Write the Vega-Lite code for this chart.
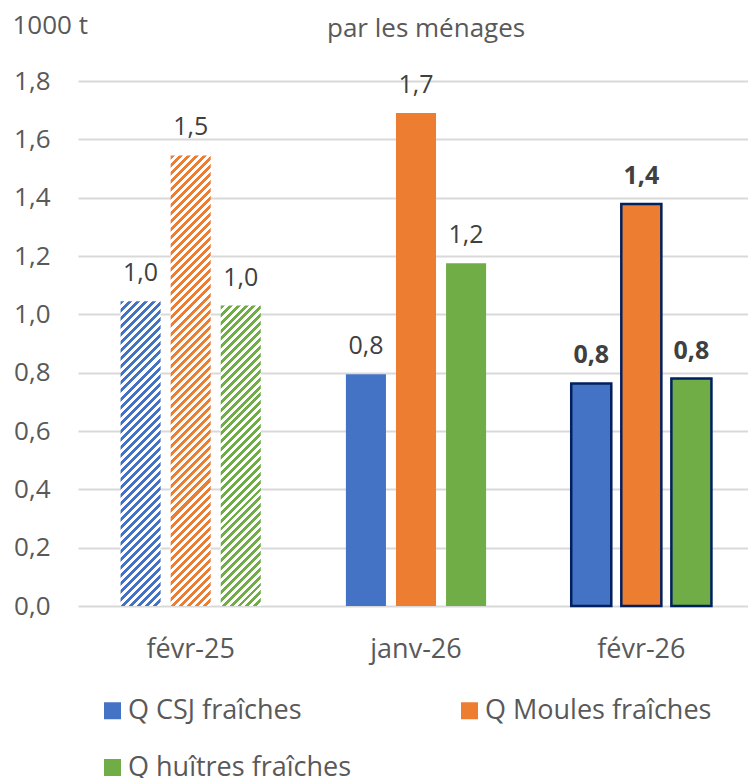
{
"$schema": "https://vega.github.io/schema/vega-lite/v6.json",
"width": 670, "height": 525,
"autosize": {"type": "none"},
"padding": {"left": 78, "top": 81, "right": 0, "bottom": 172},
"background": "white",
"config": {"view": {"stroke": null}, "locale": {"number": {"decimal": ",", "thousands": " ", "grouping": [3], "currency": ["", " €"]}}},
"title": {"text": "par les ménages", "anchor": "start", "frame": "group", "dx": 249, "offset": -51, "baseline": "alphabetic", "fontSize": 26, "fontWeight": "normal", "color": "#595959", "font": "Open Sans"},
"data": {"values": [
{"period": "févr-25", "series": "Q CSJ fraîches", "value": 1.045},
{"period": "févr-25", "series": "Q Moules fraîches", "value": 1.545},
{"period": "févr-25", "series": "Q huîtres fraîches", "value": 1.03},
{"period": "janv-26", "series": "Q CSJ fraîches", "value": 0.795},
{"period": "janv-26", "series": "Q Moules fraîches", "value": 1.69},
{"period": "janv-26", "series": "Q huîtres fraîches", "value": 1.175},
{"period": "févr-26", "series": "Q CSJ fraîches", "value": 0.763},
{"period": "févr-26", "series": "Q Moules fraîches", "value": 1.378},
{"period": "févr-26", "series": "Q huîtres fraîches", "value": 0.78}
]},
"encoding": {
"x": {"field": "period", "type": "nominal", "sort": ["févr-25", "janv-26", "févr-26"], "scale": {"range": [0, 676], "paddingInner": 0, "paddingOuter": 0}, "axis": {"title": null, "labelAngle": 0, "labelFontSize": 27, "labelColor": "#595959", "labelFont": "Open Sans", "labelPadding": 30, "ticks": false, "domain": false, "grid": false}},
"xOffset": {"field": "series", "type": "nominal", "scale": {"domain": ["Q CSJ fraîches", "Q Moules fraîches", "Q huîtres fraîches"], "paddingInner": 0.2, "paddingOuter": 0.85}},
"y": {"field": "value", "type": "quantitative", "scale": {"domain": [0, 1.8], "nice": false}, "axis": {"title": "1000 t", "titleAngle": 0, "titleX": -66, "titleY": -48, "titleAlign": "left", "titleBaseline": "alphabetic", "titleFontSize": 26, "titleFontWeight": "normal", "titleColor": "#595959", "titleFont": "Open Sans", "values": [0, 0.2, 0.4, 0.6, 0.8, 1, 1.2, 1.4, 1.6, 1.8], "format": ".1f", "labelFontSize": 26, "labelColor": "#595959", "labelFont": "Open Sans", "labelPadding": 28, "ticks": false, "domain": false, "gridColor": "#d9d9d9", "gridWidth": 2}}
},
"layer": [
{"transform": [{"filter": "datum.period === 'janv-26'"}], "mark": {"type": "bar"}, "encoding": {"color": {"field": "series", "type": "nominal", "scale": {"domain": ["Q CSJ fraîches", "Q Moules fraîches", "Q huîtres fraîches"], "range": ["#4472c4", "#ed7d31", "#70ad47"]}, "legend": {"title": null, "orient": "none", "legendX": 21, "legendY": 616, "direction": "horizontal", "columns": 2, "columnPadding": 104, "rowPadding": 29, "symbolType": "square", "symbolSize": 289, "symbolStrokeWidth": 0, "labelFontSize": 27, "labelColor": "#595959", "labelFont": "Open Sans", "labelOffset": 2, "labelLimit": 400, "padding": 0}}}},
{"transform": [{"filter": "datum.period === 'févr-26'"}], "mark": {"type": "bar", "stroke": "#002060", "strokeWidth": 2.5}, "encoding": {"color": {"field": "series", "type": "nominal", "scale": {"domain": ["Q CSJ fraîches", "Q Moules fraîches", "Q huîtres fraîches"], "range": ["#4472c4", "#ed7d31", "#70ad47"]}}}},
{"transform": [{"filter": "datum.period === 'févr-25' && datum.series === 'Q CSJ fraîches'"}], "mark": {"type": "bar", "fill": {"gradient": "linear", "x1": 0, "y1": 0, "x2": 0.14618, "y2": 1.11222, "stops": [
{"offset":0,"color":"#4472c4"},{"offset":0.0116,"color":"#4472c4"},{"offset":0.0116,"color":"#fff"},{"offset":0.0233,"color":"#fff"},{"offset":0.0233,"color":"#4472c4"},{"offset":0.0349,"color":"#4472c4"},{"offset":0.0349,"color":"#fff"},{"offset":0.0465,"color":"#fff"},{"offset":0.0465,"color":"#4472c4"},{"offset":0.0581,"color":"#4472c4"},{"offset":0.0581,"color":"#fff"},{"offset":0.0698,"color":"#fff"},{"offset":0.0698,"color":"#4472c4"},{"offset":0.0814,"color":"#4472c4"},{"offset":0.0814,"color":"#fff"},{"offset":0.093,"color":"#fff"},{"offset":0.093,"color":"#4472c4"},{"offset":0.1047,"color":"#4472c4"},{"offset":0.1047,"color":"#fff"},{"offset":0.1163,"color":"#fff"},{"offset":0.1163,"color":"#4472c4"},{"offset":0.1279,"color":"#4472c4"},{"offset":0.1279,"color":"#fff"},{"offset":0.1395,"color":"#fff"},{"offset":0.1395,"color":"#4472c4"},{"offset":0.1512,"color":"#4472c4"},{"offset":0.1512,"color":"#fff"},{"offset":0.1628,"color":"#fff"},{"offset":0.1628,"color":"#4472c4"},{"offset":0.1744,"color":"#4472c4"},{"offset":0.1744,"color":"#fff"},{"offset":0.186,"color":"#fff"},{"offset":0.186,"color":"#4472c4"},{"offset":0.1977,"color":"#4472c4"},{"offset":0.1977,"color":"#fff"},{"offset":0.2093,"color":"#fff"},{"offset":0.2093,"color":"#4472c4"},{"offset":0.2209,"color":"#4472c4"},{"offset":0.2209,"color":"#fff"},{"offset":0.2326,"color":"#fff"},{"offset":0.2326,"color":"#4472c4"},{"offset":0.2442,"color":"#4472c4"},{"offset":0.2442,"color":"#fff"},{"offset":0.2558,"color":"#fff"},{"offset":0.2558,"color":"#4472c4"},{"offset":0.2674,"color":"#4472c4"},{"offset":0.2674,"color":"#fff"},{"offset":0.2791,"color":"#fff"},{"offset":0.2791,"color":"#4472c4"},{"offset":0.2907,"color":"#4472c4"},{"offset":0.2907,"color":"#fff"},{"offset":0.3023,"color":"#fff"},{"offset":0.3023,"color":"#4472c4"},{"offset":0.314,"color":"#4472c4"},{"offset":0.314,"color":"#fff"},{"offset":0.3256,"color":"#fff"},{"offset":0.3256,"color":"#4472c4"},{"offset":0.3372,"color":"#4472c4"},{"offset":0.3372,"color":"#fff"},{"offset":0.3488,"color":"#fff"},{"offset":0.3488,"color":"#4472c4"},{"offset":0.3605,"color":"#4472c4"},{"offset":0.3605,"color":"#fff"},{"offset":0.3721,"color":"#fff"},{"offset":0.3721,"color":"#4472c4"},{"offset":0.3837,"color":"#4472c4"},{"offset":0.3837,"color":"#fff"},{"offset":0.3953,"color":"#fff"},{"offset":0.3953,"color":"#4472c4"},{"offset":0.407,"color":"#4472c4"},{"offset":0.407,"color":"#fff"},{"offset":0.4186,"color":"#fff"},{"offset":0.4186,"color":"#4472c4"},{"offset":0.4302,"color":"#4472c4"},{"offset":0.4302,"color":"#fff"},{"offset":0.4419,"color":"#fff"},{"offset":0.4419,"color":"#4472c4"},{"offset":0.4535,"color":"#4472c4"},{"offset":0.4535,"color":"#fff"},{"offset":0.4651,"color":"#fff"},{"offset":0.4651,"color":"#4472c4"},{"offset":0.4767,"color":"#4472c4"},{"offset":0.4767,"color":"#fff"},{"offset":0.4884,"color":"#fff"},{"offset":0.4884,"color":"#4472c4"},{"offset":0.5,"color":"#4472c4"},{"offset":0.5,"color":"#fff"},{"offset":0.5116,"color":"#fff"},{"offset":0.5116,"color":"#4472c4"},{"offset":0.5233,"color":"#4472c4"},{"offset":0.5233,"color":"#fff"},{"offset":0.5349,"color":"#fff"},{"offset":0.5349,"color":"#4472c4"},{"offset":0.5465,"color":"#4472c4"},{"offset":0.5465,"color":"#fff"},{"offset":0.5581,"color":"#fff"},{"offset":0.5581,"color":"#4472c4"},{"offset":0.5698,"color":"#4472c4"},{"offset":0.5698,"color":"#fff"},{"offset":0.5814,"color":"#fff"},{"offset":0.5814,"color":"#4472c4"},{"offset":0.593,"color":"#4472c4"},{"offset":0.593,"color":"#fff"},{"offset":0.6047,"color":"#fff"},{"offset":0.6047,"color":"#4472c4"},{"offset":0.6163,"color":"#4472c4"},{"offset":0.6163,"color":"#fff"},{"offset":0.6279,"color":"#fff"},{"offset":0.6279,"color":"#4472c4"},{"offset":0.6395,"color":"#4472c4"},{"offset":0.6395,"color":"#fff"},{"offset":0.6512,"color":"#fff"},{"offset":0.6512,"color":"#4472c4"},{"offset":0.6628,"color":"#4472c4"},{"offset":0.6628,"color":"#fff"},{"offset":0.6744,"color":"#fff"},{"offset":0.6744,"color":"#4472c4"},{"offset":0.686,"color":"#4472c4"},{"offset":0.686,"color":"#fff"},{"offset":0.6977,"color":"#fff"},{"offset":0.6977,"color":"#4472c4"},{"offset":0.7093,"color":"#4472c4"},{"offset":0.7093,"color":"#fff"},{"offset":0.7209,"color":"#fff"},{"offset":0.7209,"color":"#4472c4"},{"offset":0.7326,"color":"#4472c4"},{"offset":0.7326,"color":"#fff"},{"offset":0.7442,"color":"#fff"},{"offset":0.7442,"color":"#4472c4"},{"offset":0.7558,"color":"#4472c4"},{"offset":0.7558,"color":"#fff"},{"offset":0.7674,"color":"#fff"},{"offset":0.7674,"color":"#4472c4"},{"offset":0.7791,"color":"#4472c4"},{"offset":0.7791,"color":"#fff"},{"offset":0.7907,"color":"#fff"},{"offset":0.7907,"color":"#4472c4"},{"offset":0.8023,"color":"#4472c4"},{"offset":0.8023,"color":"#fff"},{"offset":0.814,"color":"#fff"},{"offset":0.814,"color":"#4472c4"},{"offset":0.8256,"color":"#4472c4"},{"offset":0.8256,"color":"#fff"},{"offset":0.8372,"color":"#fff"},{"offset":0.8372,"color":"#4472c4"},{"offset":0.8488,"color":"#4472c4"},{"offset":0.8488,"color":"#fff"},{"offset":0.8605,"color":"#fff"},{"offset":0.8605,"color":"#4472c4"},{"offset":0.8721,"color":"#4472c4"},{"offset":0.8721,"color":"#fff"},{"offset":0.8837,"color":"#fff"},{"offset":0.8837,"color":"#4472c4"},{"offset":0.8953,"color":"#4472c4"},{"offset":0.8953,"color":"#fff"},{"offset":0.907,"color":"#fff"},{"offset":0.907,"color":"#4472c4"},{"offset":0.9186,"color":"#4472c4"},{"offset":0.9186,"color":"#fff"},{"offset":0.9302,"color":"#fff"},{"offset":0.9302,"color":"#4472c4"},{"offset":0.9419,"color":"#4472c4"},{"offset":0.9419,"color":"#fff"},{"offset":0.9535,"color":"#fff"},{"offset":0.9535,"color":"#4472c4"},{"offset":0.9651,"color":"#4472c4"},{"offset":0.9651,"color":"#fff"},{"offset":0.9767,"color":"#fff"},{"offset":0.9767,"color":"#4472c4"},{"offset":0.9884,"color":"#4472c4"},{"offset":0.9884,"color":"#fff"},{"offset":1,"color":"#fff"}
]}}},
{"transform": [{"filter": "datum.period === 'févr-25' && datum.series === 'Q huîtres fraîches'"}], "mark": {"type": "bar", "fill": {"gradient": "linear", "x1": 0, "y1": 0, "x2": 0.148485, "y2": 1.11355, "stops": [
{"offset":0,"color":"#70ad47"},{"offset":0.0116,"color":"#70ad47"},{"offset":0.0116,"color":"#fff"},{"offset":0.0233,"color":"#fff"},{"offset":0.0233,"color":"#70ad47"},{"offset":0.0349,"color":"#70ad47"},{"offset":0.0349,"color":"#fff"},{"offset":0.0465,"color":"#fff"},{"offset":0.0465,"color":"#70ad47"},{"offset":0.0581,"color":"#70ad47"},{"offset":0.0581,"color":"#fff"},{"offset":0.0698,"color":"#fff"},{"offset":0.0698,"color":"#70ad47"},{"offset":0.0814,"color":"#70ad47"},{"offset":0.0814,"color":"#fff"},{"offset":0.093,"color":"#fff"},{"offset":0.093,"color":"#70ad47"},{"offset":0.1047,"color":"#70ad47"},{"offset":0.1047,"color":"#fff"},{"offset":0.1163,"color":"#fff"},{"offset":0.1163,"color":"#70ad47"},{"offset":0.1279,"color":"#70ad47"},{"offset":0.1279,"color":"#fff"},{"offset":0.1395,"color":"#fff"},{"offset":0.1395,"color":"#70ad47"},{"offset":0.1512,"color":"#70ad47"},{"offset":0.1512,"color":"#fff"},{"offset":0.1628,"color":"#fff"},{"offset":0.1628,"color":"#70ad47"},{"offset":0.1744,"color":"#70ad47"},{"offset":0.1744,"color":"#fff"},{"offset":0.186,"color":"#fff"},{"offset":0.186,"color":"#70ad47"},{"offset":0.1977,"color":"#70ad47"},{"offset":0.1977,"color":"#fff"},{"offset":0.2093,"color":"#fff"},{"offset":0.2093,"color":"#70ad47"},{"offset":0.2209,"color":"#70ad47"},{"offset":0.2209,"color":"#fff"},{"offset":0.2326,"color":"#fff"},{"offset":0.2326,"color":"#70ad47"},{"offset":0.2442,"color":"#70ad47"},{"offset":0.2442,"color":"#fff"},{"offset":0.2558,"color":"#fff"},{"offset":0.2558,"color":"#70ad47"},{"offset":0.2674,"color":"#70ad47"},{"offset":0.2674,"color":"#fff"},{"offset":0.2791,"color":"#fff"},{"offset":0.2791,"color":"#70ad47"},{"offset":0.2907,"color":"#70ad47"},{"offset":0.2907,"color":"#fff"},{"offset":0.3023,"color":"#fff"},{"offset":0.3023,"color":"#70ad47"},{"offset":0.314,"color":"#70ad47"},{"offset":0.314,"color":"#fff"},{"offset":0.3256,"color":"#fff"},{"offset":0.3256,"color":"#70ad47"},{"offset":0.3372,"color":"#70ad47"},{"offset":0.3372,"color":"#fff"},{"offset":0.3488,"color":"#fff"},{"offset":0.3488,"color":"#70ad47"},{"offset":0.3605,"color":"#70ad47"},{"offset":0.3605,"color":"#fff"},{"offset":0.3721,"color":"#fff"},{"offset":0.3721,"color":"#70ad47"},{"offset":0.3837,"color":"#70ad47"},{"offset":0.3837,"color":"#fff"},{"offset":0.3953,"color":"#fff"},{"offset":0.3953,"color":"#70ad47"},{"offset":0.407,"color":"#70ad47"},{"offset":0.407,"color":"#fff"},{"offset":0.4186,"color":"#fff"},{"offset":0.4186,"color":"#70ad47"},{"offset":0.4302,"color":"#70ad47"},{"offset":0.4302,"color":"#fff"},{"offset":0.4419,"color":"#fff"},{"offset":0.4419,"color":"#70ad47"},{"offset":0.4535,"color":"#70ad47"},{"offset":0.4535,"color":"#fff"},{"offset":0.4651,"color":"#fff"},{"offset":0.4651,"color":"#70ad47"},{"offset":0.4767,"color":"#70ad47"},{"offset":0.4767,"color":"#fff"},{"offset":0.4884,"color":"#fff"},{"offset":0.4884,"color":"#70ad47"},{"offset":0.5,"color":"#70ad47"},{"offset":0.5,"color":"#fff"},{"offset":0.5116,"color":"#fff"},{"offset":0.5116,"color":"#70ad47"},{"offset":0.5233,"color":"#70ad47"},{"offset":0.5233,"color":"#fff"},{"offset":0.5349,"color":"#fff"},{"offset":0.5349,"color":"#70ad47"},{"offset":0.5465,"color":"#70ad47"},{"offset":0.5465,"color":"#fff"},{"offset":0.5581,"color":"#fff"},{"offset":0.5581,"color":"#70ad47"},{"offset":0.5698,"color":"#70ad47"},{"offset":0.5698,"color":"#fff"},{"offset":0.5814,"color":"#fff"},{"offset":0.5814,"color":"#70ad47"},{"offset":0.593,"color":"#70ad47"},{"offset":0.593,"color":"#fff"},{"offset":0.6047,"color":"#fff"},{"offset":0.6047,"color":"#70ad47"},{"offset":0.6163,"color":"#70ad47"},{"offset":0.6163,"color":"#fff"},{"offset":0.6279,"color":"#fff"},{"offset":0.6279,"color":"#70ad47"},{"offset":0.6395,"color":"#70ad47"},{"offset":0.6395,"color":"#fff"},{"offset":0.6512,"color":"#fff"},{"offset":0.6512,"color":"#70ad47"},{"offset":0.6628,"color":"#70ad47"},{"offset":0.6628,"color":"#fff"},{"offset":0.6744,"color":"#fff"},{"offset":0.6744,"color":"#70ad47"},{"offset":0.686,"color":"#70ad47"},{"offset":0.686,"color":"#fff"},{"offset":0.6977,"color":"#fff"},{"offset":0.6977,"color":"#70ad47"},{"offset":0.7093,"color":"#70ad47"},{"offset":0.7093,"color":"#fff"},{"offset":0.7209,"color":"#fff"},{"offset":0.7209,"color":"#70ad47"},{"offset":0.7326,"color":"#70ad47"},{"offset":0.7326,"color":"#fff"},{"offset":0.7442,"color":"#fff"},{"offset":0.7442,"color":"#70ad47"},{"offset":0.7558,"color":"#70ad47"},{"offset":0.7558,"color":"#fff"},{"offset":0.7674,"color":"#fff"},{"offset":0.7674,"color":"#70ad47"},{"offset":0.7791,"color":"#70ad47"},{"offset":0.7791,"color":"#fff"},{"offset":0.7907,"color":"#fff"},{"offset":0.7907,"color":"#70ad47"},{"offset":0.8023,"color":"#70ad47"},{"offset":0.8023,"color":"#fff"},{"offset":0.814,"color":"#fff"},{"offset":0.814,"color":"#70ad47"},{"offset":0.8256,"color":"#70ad47"},{"offset":0.8256,"color":"#fff"},{"offset":0.8372,"color":"#fff"},{"offset":0.8372,"color":"#70ad47"},{"offset":0.8488,"color":"#70ad47"},{"offset":0.8488,"color":"#fff"},{"offset":0.8605,"color":"#fff"},{"offset":0.8605,"color":"#70ad47"},{"offset":0.8721,"color":"#70ad47"},{"offset":0.8721,"color":"#fff"},{"offset":0.8837,"color":"#fff"},{"offset":0.8837,"color":"#70ad47"},{"offset":0.8953,"color":"#70ad47"},{"offset":0.8953,"color":"#fff"},{"offset":0.907,"color":"#fff"},{"offset":0.907,"color":"#70ad47"},{"offset":0.9186,"color":"#70ad47"},{"offset":0.9186,"color":"#fff"},{"offset":0.9302,"color":"#fff"},{"offset":0.9302,"color":"#70ad47"},{"offset":0.9419,"color":"#70ad47"},{"offset":0.9419,"color":"#fff"},{"offset":0.9535,"color":"#fff"},{"offset":0.9535,"color":"#70ad47"},{"offset":0.9651,"color":"#70ad47"},{"offset":0.9651,"color":"#fff"},{"offset":0.9767,"color":"#fff"},{"offset":0.9767,"color":"#70ad47"},{"offset":0.9884,"color":"#70ad47"},{"offset":0.9884,"color":"#fff"},{"offset":1,"color":"#fff"}
]}}},
{"transform": [{"filter": "datum.period === 'févr-25' && datum.series === 'Q Moules fraîches'"}], "mark": {"type": "bar", "fill": {"gradient": "linear", "x1": 0, "y1": 0, "x2": 0.09604, "y2": 1.08036, "stops": [
{"offset":0,"color":"#ed7d31"},{"offset":0.0082,"color":"#ed7d31"},{"offset":0.0082,"color":"#fff"},{"offset":0.0164,"color":"#fff"},{"offset":0.0164,"color":"#ed7d31"},{"offset":0.0246,"color":"#ed7d31"},{"offset":0.0246,"color":"#fff"},{"offset":0.0328,"color":"#fff"},{"offset":0.0328,"color":"#ed7d31"},{"offset":0.041,"color":"#ed7d31"},{"offset":0.041,"color":"#fff"},{"offset":0.0492,"color":"#fff"},{"offset":0.0492,"color":"#ed7d31"},{"offset":0.0574,"color":"#ed7d31"},{"offset":0.0574,"color":"#fff"},{"offset":0.0656,"color":"#fff"},{"offset":0.0656,"color":"#ed7d31"},{"offset":0.0738,"color":"#ed7d31"},{"offset":0.0738,"color":"#fff"},{"offset":0.082,"color":"#fff"},{"offset":0.082,"color":"#ed7d31"},{"offset":0.0902,"color":"#ed7d31"},{"offset":0.0902,"color":"#fff"},{"offset":0.0984,"color":"#fff"},{"offset":0.0984,"color":"#ed7d31"},{"offset":0.1066,"color":"#ed7d31"},{"offset":0.1066,"color":"#fff"},{"offset":0.1148,"color":"#fff"},{"offset":0.1148,"color":"#ed7d31"},{"offset":0.123,"color":"#ed7d31"},{"offset":0.123,"color":"#fff"},{"offset":0.1311,"color":"#fff"},{"offset":0.1311,"color":"#ed7d31"},{"offset":0.1393,"color":"#ed7d31"},{"offset":0.1393,"color":"#fff"},{"offset":0.1475,"color":"#fff"},{"offset":0.1475,"color":"#ed7d31"},{"offset":0.1557,"color":"#ed7d31"},{"offset":0.1557,"color":"#fff"},{"offset":0.1639,"color":"#fff"},{"offset":0.1639,"color":"#ed7d31"},{"offset":0.1721,"color":"#ed7d31"},{"offset":0.1721,"color":"#fff"},{"offset":0.1803,"color":"#fff"},{"offset":0.1803,"color":"#ed7d31"},{"offset":0.1885,"color":"#ed7d31"},{"offset":0.1885,"color":"#fff"},{"offset":0.1967,"color":"#fff"},{"offset":0.1967,"color":"#ed7d31"},{"offset":0.2049,"color":"#ed7d31"},{"offset":0.2049,"color":"#fff"},{"offset":0.2131,"color":"#fff"},{"offset":0.2131,"color":"#ed7d31"},{"offset":0.2213,"color":"#ed7d31"},{"offset":0.2213,"color":"#fff"},{"offset":0.2295,"color":"#fff"},{"offset":0.2295,"color":"#ed7d31"},{"offset":0.2377,"color":"#ed7d31"},{"offset":0.2377,"color":"#fff"},{"offset":0.2459,"color":"#fff"},{"offset":0.2459,"color":"#ed7d31"},{"offset":0.2541,"color":"#ed7d31"},{"offset":0.2541,"color":"#fff"},{"offset":0.2623,"color":"#fff"},{"offset":0.2623,"color":"#ed7d31"},{"offset":0.2705,"color":"#ed7d31"},{"offset":0.2705,"color":"#fff"},{"offset":0.2787,"color":"#fff"},{"offset":0.2787,"color":"#ed7d31"},{"offset":0.2869,"color":"#ed7d31"},{"offset":0.2869,"color":"#fff"},{"offset":0.2951,"color":"#fff"},{"offset":0.2951,"color":"#ed7d31"},{"offset":0.3033,"color":"#ed7d31"},{"offset":0.3033,"color":"#fff"},{"offset":0.3115,"color":"#fff"},{"offset":0.3115,"color":"#ed7d31"},{"offset":0.3197,"color":"#ed7d31"},{"offset":0.3197,"color":"#fff"},{"offset":0.3279,"color":"#fff"},{"offset":0.3279,"color":"#ed7d31"},{"offset":0.3361,"color":"#ed7d31"},{"offset":0.3361,"color":"#fff"},{"offset":0.3443,"color":"#fff"},{"offset":0.3443,"color":"#ed7d31"},{"offset":0.3525,"color":"#ed7d31"},{"offset":0.3525,"color":"#fff"},{"offset":0.3607,"color":"#fff"},{"offset":0.3607,"color":"#ed7d31"},{"offset":0.3689,"color":"#ed7d31"},{"offset":0.3689,"color":"#fff"},{"offset":0.377,"color":"#fff"},{"offset":0.377,"color":"#ed7d31"},{"offset":0.3852,"color":"#ed7d31"},{"offset":0.3852,"color":"#fff"},{"offset":0.3934,"color":"#fff"},{"offset":0.3934,"color":"#ed7d31"},{"offset":0.4016,"color":"#ed7d31"},{"offset":0.4016,"color":"#fff"},{"offset":0.4098,"color":"#fff"},{"offset":0.4098,"color":"#ed7d31"},{"offset":0.418,"color":"#ed7d31"},{"offset":0.418,"color":"#fff"},{"offset":0.4262,"color":"#fff"},{"offset":0.4262,"color":"#ed7d31"},{"offset":0.4344,"color":"#ed7d31"},{"offset":0.4344,"color":"#fff"},{"offset":0.4426,"color":"#fff"},{"offset":0.4426,"color":"#ed7d31"},{"offset":0.4508,"color":"#ed7d31"},{"offset":0.4508,"color":"#fff"},{"offset":0.459,"color":"#fff"},{"offset":0.459,"color":"#ed7d31"},{"offset":0.4672,"color":"#ed7d31"},{"offset":0.4672,"color":"#fff"},{"offset":0.4754,"color":"#fff"},{"offset":0.4754,"color":"#ed7d31"},{"offset":0.4836,"color":"#ed7d31"},{"offset":0.4836,"color":"#fff"},{"offset":0.4918,"color":"#fff"},{"offset":0.4918,"color":"#ed7d31"},{"offset":0.5,"color":"#ed7d31"},{"offset":0.5,"color":"#fff"},{"offset":0.5082,"color":"#fff"},{"offset":0.5082,"color":"#ed7d31"},{"offset":0.5164,"color":"#ed7d31"},{"offset":0.5164,"color":"#fff"},{"offset":0.5246,"color":"#fff"},{"offset":0.5246,"color":"#ed7d31"},{"offset":0.5328,"color":"#ed7d31"},{"offset":0.5328,"color":"#fff"},{"offset":0.541,"color":"#fff"},{"offset":0.541,"color":"#ed7d31"},{"offset":0.5492,"color":"#ed7d31"},{"offset":0.5492,"color":"#fff"},{"offset":0.5574,"color":"#fff"},{"offset":0.5574,"color":"#ed7d31"},{"offset":0.5656,"color":"#ed7d31"},{"offset":0.5656,"color":"#fff"},{"offset":0.5738,"color":"#fff"},{"offset":0.5738,"color":"#ed7d31"},{"offset":0.582,"color":"#ed7d31"},{"offset":0.582,"color":"#fff"},{"offset":0.5902,"color":"#fff"},{"offset":0.5902,"color":"#ed7d31"},{"offset":0.5984,"color":"#ed7d31"},{"offset":0.5984,"color":"#fff"},{"offset":0.6066,"color":"#fff"},{"offset":0.6066,"color":"#ed7d31"},{"offset":0.6148,"color":"#ed7d31"},{"offset":0.6148,"color":"#fff"},{"offset":0.623,"color":"#fff"},{"offset":0.623,"color":"#ed7d31"},{"offset":0.6311,"color":"#ed7d31"},{"offset":0.6311,"color":"#fff"},{"offset":0.6393,"color":"#fff"},{"offset":0.6393,"color":"#ed7d31"},{"offset":0.6475,"color":"#ed7d31"},{"offset":0.6475,"color":"#fff"},{"offset":0.6557,"color":"#fff"},{"offset":0.6557,"color":"#ed7d31"},{"offset":0.6639,"color":"#ed7d31"},{"offset":0.6639,"color":"#fff"},{"offset":0.6721,"color":"#fff"},{"offset":0.6721,"color":"#ed7d31"},{"offset":0.6803,"color":"#ed7d31"},{"offset":0.6803,"color":"#fff"},{"offset":0.6885,"color":"#fff"},{"offset":0.6885,"color":"#ed7d31"},{"offset":0.6967,"color":"#ed7d31"},{"offset":0.6967,"color":"#fff"},{"offset":0.7049,"color":"#fff"},{"offset":0.7049,"color":"#ed7d31"},{"offset":0.7131,"color":"#ed7d31"},{"offset":0.7131,"color":"#fff"},{"offset":0.7213,"color":"#fff"},{"offset":0.7213,"color":"#ed7d31"},{"offset":0.7295,"color":"#ed7d31"},{"offset":0.7295,"color":"#fff"},{"offset":0.7377,"color":"#fff"},{"offset":0.7377,"color":"#ed7d31"},{"offset":0.7459,"color":"#ed7d31"},{"offset":0.7459,"color":"#fff"},{"offset":0.7541,"color":"#fff"},{"offset":0.7541,"color":"#ed7d31"},{"offset":0.7623,"color":"#ed7d31"},{"offset":0.7623,"color":"#fff"},{"offset":0.7705,"color":"#fff"},{"offset":0.7705,"color":"#ed7d31"},{"offset":0.7787,"color":"#ed7d31"},{"offset":0.7787,"color":"#fff"},{"offset":0.7869,"color":"#fff"},{"offset":0.7869,"color":"#ed7d31"},{"offset":0.7951,"color":"#ed7d31"},{"offset":0.7951,"color":"#fff"},{"offset":0.8033,"color":"#fff"},{"offset":0.8033,"color":"#ed7d31"},{"offset":0.8115,"color":"#ed7d31"},{"offset":0.8115,"color":"#fff"},{"offset":0.8197,"color":"#fff"},{"offset":0.8197,"color":"#ed7d31"},{"offset":0.8279,"color":"#ed7d31"},{"offset":0.8279,"color":"#fff"},{"offset":0.8361,"color":"#fff"},{"offset":0.8361,"color":"#ed7d31"},{"offset":0.8443,"color":"#ed7d31"},{"offset":0.8443,"color":"#fff"},{"offset":0.8525,"color":"#fff"},{"offset":0.8525,"color":"#ed7d31"},{"offset":0.8607,"color":"#ed7d31"},{"offset":0.8607,"color":"#fff"},{"offset":0.8689,"color":"#fff"},{"offset":0.8689,"color":"#ed7d31"},{"offset":0.877,"color":"#ed7d31"},{"offset":0.877,"color":"#fff"},{"offset":0.8852,"color":"#fff"},{"offset":0.8852,"color":"#ed7d31"},{"offset":0.8934,"color":"#ed7d31"},{"offset":0.8934,"color":"#fff"},{"offset":0.9016,"color":"#fff"},{"offset":0.9016,"color":"#ed7d31"},{"offset":0.9098,"color":"#ed7d31"},{"offset":0.9098,"color":"#fff"},{"offset":0.918,"color":"#fff"},{"offset":0.918,"color":"#ed7d31"},{"offset":0.9262,"color":"#ed7d31"},{"offset":0.9262,"color":"#fff"},{"offset":0.9344,"color":"#fff"},{"offset":0.9344,"color":"#ed7d31"},{"offset":0.9426,"color":"#ed7d31"},{"offset":0.9426,"color":"#fff"},{"offset":0.9508,"color":"#fff"},{"offset":0.9508,"color":"#ed7d31"},{"offset":0.959,"color":"#ed7d31"},{"offset":0.959,"color":"#fff"},{"offset":0.9672,"color":"#fff"},{"offset":0.9672,"color":"#ed7d31"},{"offset":0.9754,"color":"#ed7d31"},{"offset":0.9754,"color":"#fff"},{"offset":0.9836,"color":"#fff"},{"offset":0.9836,"color":"#ed7d31"},{"offset":0.9918,"color":"#ed7d31"},{"offset":0.9918,"color":"#fff"},{"offset":1,"color":"#fff"}
]}}},
{"transform": [{"filter": "datum.period !== 'févr-26'"}], "mark": {"type": "text", "fontSize": 25, "font": "Open Sans", "color": "#404040", "baseline": "alphabetic", "dy": -20}, "encoding": {"text": {"field": "value", "type": "quantitative", "format": ".1f"}}},
{"transform": [{"filter": "datum.period === 'févr-26'"}], "mark": {"type": "text", "fontSize": 25, "font": "Open Sans", "fontWeight": "bold", "color": "#404040", "baseline": "alphabetic", "dy": -20}, "encoding": {"text": {"field": "value", "type": "quantitative", "format": ".1f"}}}
]
}
